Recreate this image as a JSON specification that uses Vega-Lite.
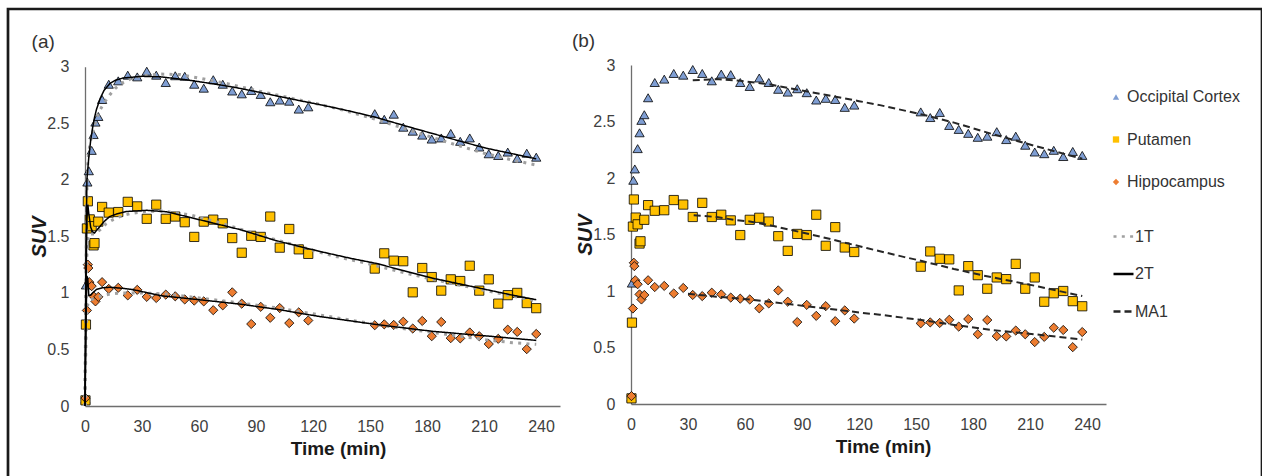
{
  "$schema": "https://vega.github.io/schema/vega-lite/v6.json",
  "autosize": "none",
  "width": 1254,
  "height": 490,
  "padding": {"left": 8, "top": 9, "right": 0, "bottom": 0},
  "background": "white",
  "config": {
    "font": "Liberation Sans",
    "view": {"stroke": "#1a1a1a", "strokeWidth": 2.7},
    "axis": {"grid": false, "ticks": false, "tickSize": 0, "domainColor": "#6e6e6e", "domainWidth": 1.3, "labelFont": "Liberation Sans", "labelFontSize": 16, "labelColor": "#404040", "titleFont": "Liberation Sans", "titleColor": "#1a1a1a", "labelFlush": false, "labelOverlap": false},
    "legend": {"labelFont": "Liberation Sans", "labelFontSize": 16, "labelColor": "#333333", "padding": 0}
  },
  "datasets": {
    "obs": [
      {"region": "Occipital Cortex", "t": 0.25, "suv": 0.06},
      {"region": "Occipital Cortex", "t": 0.5, "suv": 1.07},
      {"region": "Occipital Cortex", "t": 1.25, "suv": 1.98},
      {"region": "Occipital Cortex", "t": 2.0, "suv": 2.08},
      {"region": "Occipital Cortex", "t": 3.5, "suv": 2.26},
      {"region": "Occipital Cortex", "t": 4.5, "suv": 2.40},
      {"region": "Occipital Cortex", "t": 5.5, "suv": 2.51},
      {"region": "Occipital Cortex", "t": 7, "suv": 2.56},
      {"region": "Occipital Cortex", "t": 9, "suv": 2.71},
      {"region": "Occipital Cortex", "t": 12.5, "suv": 2.845},
      {"region": "Occipital Cortex", "t": 17.5, "suv": 2.875},
      {"region": "Occipital Cortex", "t": 22.5, "suv": 2.925},
      {"region": "Occipital Cortex", "t": 27.5, "suv": 2.91},
      {"region": "Occipital Cortex", "t": 32.5, "suv": 2.96},
      {"region": "Occipital Cortex", "t": 37.5, "suv": 2.925},
      {"region": "Occipital Cortex", "t": 42.5, "suv": 2.86},
      {"region": "Occipital Cortex", "t": 47.5, "suv": 2.92},
      {"region": "Occipital Cortex", "t": 52.5, "suv": 2.915},
      {"region": "Occipital Cortex", "t": 57.5, "suv": 2.845},
      {"region": "Occipital Cortex", "t": 62.5, "suv": 2.81},
      {"region": "Occipital Cortex", "t": 67.5, "suv": 2.885},
      {"region": "Occipital Cortex", "t": 72.5, "suv": 2.845},
      {"region": "Occipital Cortex", "t": 77.5, "suv": 2.785},
      {"region": "Occipital Cortex", "t": 82.5, "suv": 2.76},
      {"region": "Occipital Cortex", "t": 87.5, "suv": 2.79},
      {"region": "Occipital Cortex", "t": 92.5, "suv": 2.755},
      {"region": "Occipital Cortex", "t": 97.5, "suv": 2.69},
      {"region": "Occipital Cortex", "t": 102.5, "suv": 2.705},
      {"region": "Occipital Cortex", "t": 107.5, "suv": 2.695},
      {"region": "Occipital Cortex", "t": 112.5, "suv": 2.625},
      {"region": "Occipital Cortex", "t": 117.5, "suv": 2.645},
      {"region": "Occipital Cortex", "t": 152.5, "suv": 2.585},
      {"region": "Occipital Cortex", "t": 157.5, "suv": 2.535},
      {"region": "Occipital Cortex", "t": 162.5, "suv": 2.58},
      {"region": "Occipital Cortex", "t": 167.5, "suv": 2.465},
      {"region": "Occipital Cortex", "t": 172.5, "suv": 2.43},
      {"region": "Occipital Cortex", "t": 177.5, "suv": 2.395},
      {"region": "Occipital Cortex", "t": 182.5, "suv": 2.36},
      {"region": "Occipital Cortex", "t": 187.5, "suv": 2.37},
      {"region": "Occipital Cortex", "t": 192.5, "suv": 2.41},
      {"region": "Occipital Cortex", "t": 197.5, "suv": 2.34},
      {"region": "Occipital Cortex", "t": 202.5, "suv": 2.37},
      {"region": "Occipital Cortex", "t": 207.5, "suv": 2.29},
      {"region": "Occipital Cortex", "t": 212.5, "suv": 2.23},
      {"region": "Occipital Cortex", "t": 217.5, "suv": 2.215},
      {"region": "Occipital Cortex", "t": 222.5, "suv": 2.245},
      {"region": "Occipital Cortex", "t": 227.5, "suv": 2.19},
      {"region": "Occipital Cortex", "t": 232.5, "suv": 2.235},
      {"region": "Occipital Cortex", "t": 237.5, "suv": 2.2},
      {"region": "Putamen", "t": 0.25, "suv": 0.05},
      {"region": "Putamen", "t": 0.5, "suv": 0.72},
      {"region": "Putamen", "t": 1.0, "suv": 1.57},
      {"region": "Putamen", "t": 1.5, "suv": 1.81},
      {"region": "Putamen", "t": 2.5, "suv": 1.65},
      {"region": "Putamen", "t": 3.5, "suv": 1.59},
      {"region": "Putamen", "t": 4.5, "suv": 1.42},
      {"region": "Putamen", "t": 5.0, "suv": 1.44},
      {"region": "Putamen", "t": 7, "suv": 1.63},
      {"region": "Putamen", "t": 9, "suv": 1.76},
      {"region": "Putamen", "t": 12.5, "suv": 1.71},
      {"region": "Putamen", "t": 17.5, "suv": 1.715},
      {"region": "Putamen", "t": 22.5, "suv": 1.805},
      {"region": "Putamen", "t": 27.5, "suv": 1.765},
      {"region": "Putamen", "t": 32.5, "suv": 1.655},
      {"region": "Putamen", "t": 37.5, "suv": 1.78},
      {"region": "Putamen", "t": 42.5, "suv": 1.655},
      {"region": "Putamen", "t": 47.5, "suv": 1.675},
      {"region": "Putamen", "t": 52.5, "suv": 1.625},
      {"region": "Putamen", "t": 57.5, "suv": 1.495},
      {"region": "Putamen", "t": 62.5, "suv": 1.63},
      {"region": "Putamen", "t": 67.5, "suv": 1.648},
      {"region": "Putamen", "t": 72.5, "suv": 1.615},
      {"region": "Putamen", "t": 77.5, "suv": 1.485},
      {"region": "Putamen", "t": 82.5, "suv": 1.355},
      {"region": "Putamen", "t": 87.5, "suv": 1.505},
      {"region": "Putamen", "t": 92.5, "suv": 1.495},
      {"region": "Putamen", "t": 97.5, "suv": 1.675},
      {"region": "Putamen", "t": 102.5, "suv": 1.4},
      {"region": "Putamen", "t": 107.5, "suv": 1.565},
      {"region": "Putamen", "t": 112.5, "suv": 1.385},
      {"region": "Putamen", "t": 117.5, "suv": 1.345},
      {"region": "Putamen", "t": 152.5, "suv": 1.215},
      {"region": "Putamen", "t": 157.5, "suv": 1.35},
      {"region": "Putamen", "t": 162.5, "suv": 1.285},
      {"region": "Putamen", "t": 167.5, "suv": 1.28},
      {"region": "Putamen", "t": 172.5, "suv": 1.005},
      {"region": "Putamen", "t": 177.5, "suv": 1.22},
      {"region": "Putamen", "t": 182.5, "suv": 1.14},
      {"region": "Putamen", "t": 187.5, "suv": 1.02},
      {"region": "Putamen", "t": 192.5, "suv": 1.12},
      {"region": "Putamen", "t": 197.5, "suv": 1.105},
      {"region": "Putamen", "t": 202.5, "suv": 1.24},
      {"region": "Putamen", "t": 207.5, "suv": 1.02},
      {"region": "Putamen", "t": 212.5, "suv": 1.12},
      {"region": "Putamen", "t": 217.5, "suv": 0.905},
      {"region": "Putamen", "t": 222.5, "suv": 0.98},
      {"region": "Putamen", "t": 227.5, "suv": 1.0},
      {"region": "Putamen", "t": 232.5, "suv": 0.91},
      {"region": "Putamen", "t": 237.5, "suv": 0.865},
      {"region": "Hippocampus", "t": 0.25, "suv": 0.07},
      {"region": "Hippocampus", "t": 1.0, "suv": 0.845},
      {"region": "Hippocampus", "t": 1.5, "suv": 1.25},
      {"region": "Hippocampus", "t": 1.75, "suv": 1.22},
      {"region": "Hippocampus", "t": 2.25, "suv": 1.095},
      {"region": "Hippocampus", "t": 3.5, "suv": 1.06},
      {"region": "Hippocampus", "t": 4.5, "suv": 0.97},
      {"region": "Hippocampus", "t": 5.5, "suv": 0.925},
      {"region": "Hippocampus", "t": 7, "suv": 0.965},
      {"region": "Hippocampus", "t": 9, "suv": 1.095},
      {"region": "Hippocampus", "t": 12.5, "suv": 1.035},
      {"region": "Hippocampus", "t": 17.5, "suv": 1.045},
      {"region": "Hippocampus", "t": 22.5, "suv": 0.978},
      {"region": "Hippocampus", "t": 27.5, "suv": 1.027},
      {"region": "Hippocampus", "t": 32.5, "suv": 0.965},
      {"region": "Hippocampus", "t": 37.5, "suv": 0.955},
      {"region": "Hippocampus", "t": 42.5, "suv": 0.985},
      {"region": "Hippocampus", "t": 47.5, "suv": 0.97},
      {"region": "Hippocampus", "t": 52.5, "suv": 0.942},
      {"region": "Hippocampus", "t": 57.5, "suv": 0.932},
      {"region": "Hippocampus", "t": 62.5, "suv": 0.925},
      {"region": "Hippocampus", "t": 67.5, "suv": 0.847},
      {"region": "Hippocampus", "t": 72.5, "suv": 0.89},
      {"region": "Hippocampus", "t": 77.5, "suv": 1.005},
      {"region": "Hippocampus", "t": 82.5, "suv": 0.905},
      {"region": "Hippocampus", "t": 87.5, "suv": 0.725},
      {"region": "Hippocampus", "t": 92.5, "suv": 0.877},
      {"region": "Hippocampus", "t": 97.5, "suv": 0.78},
      {"region": "Hippocampus", "t": 102.5, "suv": 0.866},
      {"region": "Hippocampus", "t": 107.5, "suv": 0.733},
      {"region": "Hippocampus", "t": 112.5, "suv": 0.828},
      {"region": "Hippocampus", "t": 117.5, "suv": 0.756},
      {"region": "Hippocampus", "t": 152.5, "suv": 0.714},
      {"region": "Hippocampus", "t": 157.5, "suv": 0.722},
      {"region": "Hippocampus", "t": 162.5, "suv": 0.717},
      {"region": "Hippocampus", "t": 167.5, "suv": 0.745},
      {"region": "Hippocampus", "t": 172.5, "suv": 0.685},
      {"region": "Hippocampus", "t": 177.5, "suv": 0.752},
      {"region": "Hippocampus", "t": 182.5, "suv": 0.617},
      {"region": "Hippocampus", "t": 187.5, "suv": 0.743},
      {"region": "Hippocampus", "t": 192.5, "suv": 0.6},
      {"region": "Hippocampus", "t": 197.5, "suv": 0.598},
      {"region": "Hippocampus", "t": 202.5, "suv": 0.65},
      {"region": "Hippocampus", "t": 207.5, "suv": 0.617},
      {"region": "Hippocampus", "t": 212.5, "suv": 0.548},
      {"region": "Hippocampus", "t": 217.5, "suv": 0.594},
      {"region": "Hippocampus", "t": 222.5, "suv": 0.675},
      {"region": "Hippocampus", "t": 227.5, "suv": 0.655},
      {"region": "Hippocampus", "t": 232.5, "suv": 0.503},
      {"region": "Hippocampus", "t": 237.5, "suv": 0.637}
    ],
    "fit": [
      {"model": "1T", "region": "Occipital Cortex", "t": 0, "suv": 0},
      {"model": "1T", "region": "Occipital Cortex", "t": 0.5, "suv": 1.2},
      {"model": "1T", "region": "Occipital Cortex", "t": 1, "suv": 1.9},
      {"model": "1T", "region": "Occipital Cortex", "t": 1.5, "suv": 2.15},
      {"model": "1T", "region": "Occipital Cortex", "t": 2, "suv": 2.25},
      {"model": "1T", "region": "Occipital Cortex", "t": 3, "suv": 2.35},
      {"model": "1T", "region": "Occipital Cortex", "t": 4, "suv": 2.42},
      {"model": "1T", "region": "Occipital Cortex", "t": 5, "suv": 2.48},
      {"model": "1T", "region": "Occipital Cortex", "t": 6, "suv": 2.54},
      {"model": "1T", "region": "Occipital Cortex", "t": 8, "suv": 2.62},
      {"model": "1T", "region": "Occipital Cortex", "t": 10, "suv": 2.68},
      {"model": "1T", "region": "Occipital Cortex", "t": 13, "suv": 2.75},
      {"model": "1T", "region": "Occipital Cortex", "t": 16, "suv": 2.81},
      {"model": "1T", "region": "Occipital Cortex", "t": 20, "suv": 2.86},
      {"model": "1T", "region": "Occipital Cortex", "t": 25, "suv": 2.9},
      {"model": "1T", "region": "Occipital Cortex", "t": 30, "suv": 2.92},
      {"model": "1T", "region": "Occipital Cortex", "t": 40, "suv": 2.935},
      {"model": "1T", "region": "Occipital Cortex", "t": 50, "suv": 2.93},
      {"model": "1T", "region": "Occipital Cortex", "t": 60, "suv": 2.9},
      {"model": "1T", "region": "Occipital Cortex", "t": 75, "suv": 2.85},
      {"model": "1T", "region": "Occipital Cortex", "t": 90, "suv": 2.79},
      {"model": "1T", "region": "Occipital Cortex", "t": 105, "suv": 2.735},
      {"model": "1T", "region": "Occipital Cortex", "t": 120, "suv": 2.68},
      {"model": "1T", "region": "Occipital Cortex", "t": 135, "suv": 2.62},
      {"model": "1T", "region": "Occipital Cortex", "t": 150, "suv": 2.55},
      {"model": "1T", "region": "Occipital Cortex", "t": 165, "suv": 2.47},
      {"model": "1T", "region": "Occipital Cortex", "t": 180, "suv": 2.39},
      {"model": "1T", "region": "Occipital Cortex", "t": 195, "suv": 2.31},
      {"model": "1T", "region": "Occipital Cortex", "t": 210, "suv": 2.235},
      {"model": "1T", "region": "Occipital Cortex", "t": 225, "suv": 2.175},
      {"model": "1T", "region": "Occipital Cortex", "t": 237.5, "suv": 2.13},
      {"model": "2T", "region": "Occipital Cortex", "t": 0, "suv": 0},
      {"model": "2T", "region": "Occipital Cortex", "t": 0.5, "suv": 1.3},
      {"model": "2T", "region": "Occipital Cortex", "t": 1, "suv": 2.0},
      {"model": "2T", "region": "Occipital Cortex", "t": 1.5, "suv": 2.1},
      {"model": "2T", "region": "Occipital Cortex", "t": 2, "suv": 2.2},
      {"model": "2T", "region": "Occipital Cortex", "t": 3, "suv": 2.35},
      {"model": "2T", "region": "Occipital Cortex", "t": 4, "suv": 2.46},
      {"model": "2T", "region": "Occipital Cortex", "t": 5, "suv": 2.55},
      {"model": "2T", "region": "Occipital Cortex", "t": 6, "suv": 2.62},
      {"model": "2T", "region": "Occipital Cortex", "t": 8, "suv": 2.72},
      {"model": "2T", "region": "Occipital Cortex", "t": 10, "suv": 2.79},
      {"model": "2T", "region": "Occipital Cortex", "t": 13, "suv": 2.85},
      {"model": "2T", "region": "Occipital Cortex", "t": 16, "suv": 2.88},
      {"model": "2T", "region": "Occipital Cortex", "t": 20, "suv": 2.9},
      {"model": "2T", "region": "Occipital Cortex", "t": 30, "suv": 2.915},
      {"model": "2T", "region": "Occipital Cortex", "t": 40, "suv": 2.91},
      {"model": "2T", "region": "Occipital Cortex", "t": 53, "suv": 2.885},
      {"model": "2T", "region": "Occipital Cortex", "t": 65, "suv": 2.855},
      {"model": "2T", "region": "Occipital Cortex", "t": 78, "suv": 2.82},
      {"model": "2T", "region": "Occipital Cortex", "t": 90, "suv": 2.78},
      {"model": "2T", "region": "Occipital Cortex", "t": 100, "suv": 2.745},
      {"model": "2T", "region": "Occipital Cortex", "t": 113, "suv": 2.7},
      {"model": "2T", "region": "Occipital Cortex", "t": 125, "suv": 2.66},
      {"model": "2T", "region": "Occipital Cortex", "t": 140, "suv": 2.605},
      {"model": "2T", "region": "Occipital Cortex", "t": 152.5, "suv": 2.555},
      {"model": "2T", "region": "Occipital Cortex", "t": 170, "suv": 2.47},
      {"model": "2T", "region": "Occipital Cortex", "t": 187, "suv": 2.39},
      {"model": "2T", "region": "Occipital Cortex", "t": 200, "suv": 2.33},
      {"model": "2T", "region": "Occipital Cortex", "t": 211, "suv": 2.28},
      {"model": "2T", "region": "Occipital Cortex", "t": 225, "suv": 2.23},
      {"model": "2T", "region": "Occipital Cortex", "t": 237.5, "suv": 2.185},
      {"model": "1T", "region": "Putamen", "t": 0, "suv": 0},
      {"model": "1T", "region": "Putamen", "t": 0.5, "suv": 0.9},
      {"model": "1T", "region": "Putamen", "t": 1, "suv": 1.35},
      {"model": "1T", "region": "Putamen", "t": 1.5, "suv": 1.48},
      {"model": "1T", "region": "Putamen", "t": 2, "suv": 1.52},
      {"model": "1T", "region": "Putamen", "t": 3, "suv": 1.52},
      {"model": "1T", "region": "Putamen", "t": 5, "suv": 1.52},
      {"model": "1T", "region": "Putamen", "t": 8, "suv": 1.56},
      {"model": "1T", "region": "Putamen", "t": 11, "suv": 1.61},
      {"model": "1T", "region": "Putamen", "t": 15, "suv": 1.65},
      {"model": "1T", "region": "Putamen", "t": 20, "suv": 1.685},
      {"model": "1T", "region": "Putamen", "t": 25, "suv": 1.705},
      {"model": "1T", "region": "Putamen", "t": 32, "suv": 1.72},
      {"model": "1T", "region": "Putamen", "t": 40, "suv": 1.725},
      {"model": "1T", "region": "Putamen", "t": 55, "suv": 1.69},
      {"model": "1T", "region": "Putamen", "t": 70, "suv": 1.625},
      {"model": "1T", "region": "Putamen", "t": 90, "suv": 1.52},
      {"model": "1T", "region": "Putamen", "t": 113, "suv": 1.41},
      {"model": "1T", "region": "Putamen", "t": 130, "suv": 1.33},
      {"model": "1T", "region": "Putamen", "t": 150, "suv": 1.255},
      {"model": "1T", "region": "Putamen", "t": 165, "suv": 1.19},
      {"model": "1T", "region": "Putamen", "t": 183, "suv": 1.12},
      {"model": "1T", "region": "Putamen", "t": 211, "suv": 1.02},
      {"model": "1T", "region": "Putamen", "t": 237.5, "suv": 0.93},
      {"model": "2T", "region": "Putamen", "t": 0, "suv": 0},
      {"model": "2T", "region": "Putamen", "t": 0.5, "suv": 1.0},
      {"model": "2T", "region": "Putamen", "t": 1, "suv": 1.65},
      {"model": "2T", "region": "Putamen", "t": 1.5, "suv": 1.78},
      {"model": "2T", "region": "Putamen", "t": 2, "suv": 1.7},
      {"model": "2T", "region": "Putamen", "t": 3, "suv": 1.58},
      {"model": "2T", "region": "Putamen", "t": 4, "suv": 1.54},
      {"model": "2T", "region": "Putamen", "t": 5, "suv": 1.53},
      {"model": "2T", "region": "Putamen", "t": 7, "suv": 1.57},
      {"model": "2T", "region": "Putamen", "t": 10, "suv": 1.63},
      {"model": "2T", "region": "Putamen", "t": 13, "suv": 1.675},
      {"model": "2T", "region": "Putamen", "t": 17, "suv": 1.7},
      {"model": "2T", "region": "Putamen", "t": 22, "suv": 1.72},
      {"model": "2T", "region": "Putamen", "t": 32.5, "suv": 1.73},
      {"model": "2T", "region": "Putamen", "t": 43, "suv": 1.717},
      {"model": "2T", "region": "Putamen", "t": 53.5, "suv": 1.675},
      {"model": "2T", "region": "Putamen", "t": 67.5, "suv": 1.617},
      {"model": "2T", "region": "Putamen", "t": 81.6, "suv": 1.56},
      {"model": "2T", "region": "Putamen", "t": 100, "suv": 1.465},
      {"model": "2T", "region": "Putamen", "t": 113, "suv": 1.41},
      {"model": "2T", "region": "Putamen", "t": 124, "suv": 1.365},
      {"model": "2T", "region": "Putamen", "t": 140, "suv": 1.305},
      {"model": "2T", "region": "Putamen", "t": 153.5, "suv": 1.26},
      {"model": "2T", "region": "Putamen", "t": 168, "suv": 1.195},
      {"model": "2T", "region": "Putamen", "t": 183, "suv": 1.13},
      {"model": "2T", "region": "Putamen", "t": 197, "suv": 1.08},
      {"model": "2T", "region": "Putamen", "t": 211, "suv": 1.03},
      {"model": "2T", "region": "Putamen", "t": 225, "suv": 0.98},
      {"model": "2T", "region": "Putamen", "t": 237.5, "suv": 0.94},
      {"model": "1T", "region": "Hippocampus", "t": 0, "suv": 0},
      {"model": "1T", "region": "Hippocampus", "t": 0.5, "suv": 0.6},
      {"model": "1T", "region": "Hippocampus", "t": 1, "suv": 0.82},
      {"model": "1T", "region": "Hippocampus", "t": 1.5, "suv": 0.9},
      {"model": "1T", "region": "Hippocampus", "t": 2, "suv": 0.93},
      {"model": "1T", "region": "Hippocampus", "t": 3, "suv": 0.94},
      {"model": "1T", "region": "Hippocampus", "t": 5, "suv": 0.95},
      {"model": "1T", "region": "Hippocampus", "t": 8, "suv": 0.97},
      {"model": "1T", "region": "Hippocampus", "t": 13, "suv": 0.99},
      {"model": "1T", "region": "Hippocampus", "t": 20, "suv": 1.0},
      {"model": "1T", "region": "Hippocampus", "t": 30, "suv": 1.0},
      {"model": "1T", "region": "Hippocampus", "t": 43, "suv": 0.99},
      {"model": "1T", "region": "Hippocampus", "t": 60, "suv": 0.955},
      {"model": "1T", "region": "Hippocampus", "t": 80, "suv": 0.915},
      {"model": "1T", "region": "Hippocampus", "t": 100, "suv": 0.87},
      {"model": "1T", "region": "Hippocampus", "t": 120, "suv": 0.815},
      {"model": "1T", "region": "Hippocampus", "t": 150, "suv": 0.73},
      {"model": "1T", "region": "Hippocampus", "t": 165, "suv": 0.69},
      {"model": "1T", "region": "Hippocampus", "t": 183, "suv": 0.65},
      {"model": "1T", "region": "Hippocampus", "t": 211, "suv": 0.585},
      {"model": "1T", "region": "Hippocampus", "t": 225, "suv": 0.56},
      {"model": "1T", "region": "Hippocampus", "t": 237.5, "suv": 0.545},
      {"model": "2T", "region": "Hippocampus", "t": 0, "suv": 0},
      {"model": "2T", "region": "Hippocampus", "t": 0.5, "suv": 0.7},
      {"model": "2T", "region": "Hippocampus", "t": 1, "suv": 1.15},
      {"model": "2T", "region": "Hippocampus", "t": 1.5, "suv": 1.12},
      {"model": "2T", "region": "Hippocampus", "t": 2, "suv": 0.98},
      {"model": "2T", "region": "Hippocampus", "t": 3, "suv": 0.98},
      {"model": "2T", "region": "Hippocampus", "t": 4, "suv": 1.0},
      {"model": "2T", "region": "Hippocampus", "t": 6, "suv": 1.03},
      {"model": "2T", "region": "Hippocampus", "t": 9, "suv": 1.045},
      {"model": "2T", "region": "Hippocampus", "t": 13, "suv": 1.05},
      {"model": "2T", "region": "Hippocampus", "t": 20, "suv": 1.04},
      {"model": "2T", "region": "Hippocampus", "t": 25, "suv": 1.03},
      {"model": "2T", "region": "Hippocampus", "t": 40, "suv": 0.975},
      {"model": "2T", "region": "Hippocampus", "t": 60, "suv": 0.94},
      {"model": "2T", "region": "Hippocampus", "t": 82, "suv": 0.9},
      {"model": "2T", "region": "Hippocampus", "t": 103, "suv": 0.85},
      {"model": "2T", "region": "Hippocampus", "t": 113, "suv": 0.82},
      {"model": "2T", "region": "Hippocampus", "t": 124, "suv": 0.79},
      {"model": "2T", "region": "Hippocampus", "t": 153.5, "suv": 0.72},
      {"model": "2T", "region": "Hippocampus", "t": 183, "suv": 0.66},
      {"model": "2T", "region": "Hippocampus", "t": 211, "suv": 0.62},
      {"model": "2T", "region": "Hippocampus", "t": 237.5, "suv": 0.58},
      {"model": "MA1", "region": "Occipital Cortex", "t": 32.5, "suv": 2.865},
      {"model": "MA1", "region": "Occipital Cortex", "t": 45, "suv": 2.875},
      {"model": "MA1", "region": "Occipital Cortex", "t": 57.5, "suv": 2.86},
      {"model": "MA1", "region": "Occipital Cortex", "t": 72.5, "suv": 2.83},
      {"model": "MA1", "region": "Occipital Cortex", "t": 85, "suv": 2.79},
      {"model": "MA1", "region": "Occipital Cortex", "t": 103, "suv": 2.735},
      {"model": "MA1", "region": "Occipital Cortex", "t": 120, "suv": 2.68},
      {"model": "MA1", "region": "Occipital Cortex", "t": 131, "suv": 2.645},
      {"model": "MA1", "region": "Occipital Cortex", "t": 152.5, "suv": 2.565},
      {"model": "MA1", "region": "Occipital Cortex", "t": 170, "suv": 2.49},
      {"model": "MA1", "region": "Occipital Cortex", "t": 190, "suv": 2.39},
      {"model": "MA1", "region": "Occipital Cortex", "t": 213.5, "suv": 2.28},
      {"model": "MA1", "region": "Occipital Cortex", "t": 237.5, "suv": 2.17},
      {"model": "MA1", "region": "Putamen", "t": 33, "suv": 1.67},
      {"model": "MA1", "region": "Putamen", "t": 45, "suv": 1.655},
      {"model": "MA1", "region": "Putamen", "t": 54, "suv": 1.63},
      {"model": "MA1", "region": "Putamen", "t": 62.5, "suv": 1.615},
      {"model": "MA1", "region": "Putamen", "t": 75, "suv": 1.575},
      {"model": "MA1", "region": "Putamen", "t": 100, "suv": 1.48},
      {"model": "MA1", "region": "Putamen", "t": 124, "suv": 1.38},
      {"model": "MA1", "region": "Putamen", "t": 144, "suv": 1.3},
      {"model": "MA1", "region": "Putamen", "t": 152, "suv": 1.27},
      {"model": "MA1", "region": "Putamen", "t": 170, "suv": 1.195},
      {"model": "MA1", "region": "Putamen", "t": 184.6, "suv": 1.14},
      {"model": "MA1", "region": "Putamen", "t": 214.4, "suv": 1.04},
      {"model": "MA1", "region": "Putamen", "t": 237.5, "suv": 0.955},
      {"model": "MA1", "region": "Hippocampus", "t": 30, "suv": 0.975},
      {"model": "MA1", "region": "Hippocampus", "t": 45, "suv": 0.95},
      {"model": "MA1", "region": "Hippocampus", "t": 62.5, "suv": 0.925},
      {"model": "MA1", "region": "Hippocampus", "t": 85, "suv": 0.88},
      {"model": "MA1", "region": "Hippocampus", "t": 103, "suv": 0.845},
      {"model": "MA1", "region": "Hippocampus", "t": 120, "suv": 0.81},
      {"model": "MA1", "region": "Hippocampus", "t": 131, "suv": 0.79},
      {"model": "MA1", "region": "Hippocampus", "t": 152, "suv": 0.745},
      {"model": "MA1", "region": "Hippocampus", "t": 170, "suv": 0.7},
      {"model": "MA1", "region": "Hippocampus", "t": 190, "suv": 0.655},
      {"model": "MA1", "region": "Hippocampus", "t": 213.5, "suv": 0.615},
      {"model": "MA1", "region": "Hippocampus", "t": 237.5, "suv": 0.57}
    ],
    "labels": [{"panel": "a", "label": "(a)"}, {"panel": "b", "label": "(b)"}]
  },
  "layer": [
    {
      "layer": [
        {
          "data": {"name": "obs"},
          "mark": {"type": "point", "filled": true, "stroke": "#000000", "strokeWidth": 0.8, "size": 85, "opacity": 1},
          "encoding": {
            "x": {"field": "t", "type": "quantitative", "scale": {"domain": [0, 250], "range": [77, 552], "nice": false, "zero": false},
                  "axis": {"orient": "bottom", "offset": -93, "values": [0, 30, 60, 90, 120, 150, 180, 210, 240], "format": "d", "labelPadding": 12, "title": "Time (min)", "titleFontSize": 19, "titleFontWeight": "bold", "titleX": 330, "titleY": 48, "titleBaseline": "alphabetic", "titleAlign": "center"}},
            "y": {"field": "suv", "type": "quantitative", "scale": {"domain": [0, 3], "range": [397, 57.7], "nice": false, "zero": false},
                  "axis": {"orient": "left", "offset": -77, "values": [0, 0.5, 1, 1.5, 2, 2.5, 3], "format": "~g", "labelPadding": 16, "title": "SUV", "titleFontSize": 20, "titleFontWeight": "bold", "titleFontStyle": "italic", "titleX": -40, "titleAngle": 270, "titleBaseline": "alphabetic", "titleAlign": "center"}},
            "fill": {"field": "region", "type": "nominal", "scale": {"domain": ["Occipital Cortex", "Putamen", "Hippocampus"], "range": ["#7F9ED3", "#FFC000", "#ED7D31"]},
                     "legend": {"title": null, "orient": "none", "legendX": 1100, "legendY": 80, "symbolSize": 40, "symbolStrokeColor": "#000000", "symbolStrokeWidth": 0.8, "rowPadding": 26.5, "labelOffset": 3}},
            "shape": {"field": "region", "type": "nominal", "scale": {"domain": ["Occipital Cortex", "Putamen", "Hippocampus"], "range": ["triangle-up", "square", "diamond"]},
                     "legend": {"title": null, "orient": "none", "legendX": 1100, "legendY": 80, "symbolSize": 40, "symbolStrokeColor": "#000000", "symbolStrokeWidth": 0.8, "rowPadding": 26.5, "labelOffset": 3}}
          }
        },
        {
          "data": {"name": "fit"},
          "transform": [{"filter": "datum.model === '1T'"}],
          "mark": {"type": "line", "strokeWidth": 3},
          "encoding": {
            "x": {"field": "t", "type": "quantitative"},
            "y": {"field": "suv", "type": "quantitative"},
            "detail": {"field": "region"},
            "stroke": {"field": "model", "type": "nominal", "scale": {"domain": ["1T", "2T", "MA1"], "range": ["#A0A0A0", "#000000", "#262626"]},
                       "legend": {"title": null, "orient": "none", "legendX": 1104, "legendY": 216, "symbolType": "stroke", "symbolSize": 400, "symbolStrokeWidth": 2.5, "rowPadding": 17.5, "labelOffset": 0}},
            "strokeDash": {"field": "model", "type": "nominal", "scale": {"domain": ["1T", "2T", "MA1"], "range": [[3, 5.3], [1, 0], [7, 4]]},
                       "legend": {"title": null, "orient": "none", "legendX": 1104, "legendY": 216, "symbolType": "stroke", "symbolSize": 400, "symbolStrokeWidth": 2.5, "rowPadding": 17.5, "labelOffset": 0}}
          }
        },
        {
          "data": {"name": "fit"},
          "transform": [{"filter": "datum.model === '2T'"}],
          "mark": {"type": "line", "strokeWidth": 1.5},
          "encoding": {
            "x": {"field": "t", "type": "quantitative"},
            "y": {"field": "suv", "type": "quantitative"},
            "detail": {"field": "region"},
            "stroke": {"field": "model", "type": "nominal", "scale": {"domain": ["1T", "2T", "MA1"], "range": ["#A0A0A0", "#000000", "#262626"]},
                       "legend": {"title": null, "orient": "none", "legendX": 1104, "legendY": 216, "symbolType": "stroke", "symbolSize": 400, "symbolStrokeWidth": 2.5, "rowPadding": 17.5, "labelOffset": 0}},
            "strokeDash": {"field": "model", "type": "nominal", "scale": {"domain": ["1T", "2T", "MA1"], "range": [[3, 5.3], [1, 0], [7, 4]]},
                       "legend": {"title": null, "orient": "none", "legendX": 1104, "legendY": 216, "symbolType": "stroke", "symbolSize": 400, "symbolStrokeWidth": 2.5, "rowPadding": 17.5, "labelOffset": 0}}
          }
        },
        {
          "data": {"name": "labels"},
          "transform": [{"filter": "datum.panel === 'a'"}],
          "mark": {"type": "text", "fontSize": 19, "color": "#333333", "align": "center", "baseline": "middle"},
          "encoding": {
            "x": {"datum": -22},
            "y": {"datum": 3.22},
            "text": {"field": "label"}
          }
        }
      ]
    },
    {
      "layer": [
        {
          "data": {"name": "obs"},
          "mark": {"type": "point", "filled": true, "stroke": "#000000", "strokeWidth": 0.8, "size": 85, "opacity": 1},
          "encoding": {
            "x": {"field": "t", "type": "quantitative", "scale": {"domain": [0, 250], "range": [623, 1098], "nice": false, "zero": false},
                  "axis": {"orient": "bottom", "offset": -95, "values": [0, 30, 60, 90, 120, 150, 180, 210, 240], "format": "d", "labelPadding": 12, "title": "Time (min)", "titleFontSize": 19, "titleFontWeight": "bold", "titleX": 875, "titleY": 48, "titleBaseline": "alphabetic", "titleAlign": "center"}},
            "y": {"field": "suv", "type": "quantitative", "scale": {"domain": [0, 3], "range": [395, 56], "nice": false, "zero": false},
                  "axis": {"orient": "left", "offset": -623, "values": [0, 0.5, 1, 1.5, 2, 2.5, 3], "format": "~g", "labelPadding": 16, "title": "SUV", "titleFontSize": 20, "titleFontWeight": "bold", "titleFontStyle": "italic", "titleX": -40, "titleAngle": 270, "titleBaseline": "alphabetic", "titleAlign": "center"}},
            "fill": {"field": "region", "type": "nominal", "scale": {"domain": ["Occipital Cortex", "Putamen", "Hippocampus"], "range": ["#7F9ED3", "#FFC000", "#ED7D31"]},
                     "legend": {"title": null, "orient": "none", "legendX": 1100, "legendY": 80, "symbolSize": 40, "symbolStrokeColor": "#000000", "symbolStrokeWidth": 0.8, "rowPadding": 26.5, "labelOffset": 3}},
            "shape": {"field": "region", "type": "nominal", "scale": {"domain": ["Occipital Cortex", "Putamen", "Hippocampus"], "range": ["triangle-up", "square", "diamond"]},
                     "legend": {"title": null, "orient": "none", "legendX": 1100, "legendY": 80, "symbolSize": 40, "symbolStrokeColor": "#000000", "symbolStrokeWidth": 0.8, "rowPadding": 26.5, "labelOffset": 3}}
          }
        },
        {
          "data": {"name": "fit"},
          "transform": [{"filter": "datum.model === 'MA1'"}],
          "mark": {"type": "line", "strokeWidth": 2},
          "encoding": {
            "x": {"field": "t", "type": "quantitative"},
            "y": {"field": "suv", "type": "quantitative"},
            "detail": {"field": "region"},
            "stroke": {"field": "model", "type": "nominal", "scale": {"domain": ["1T", "2T", "MA1"], "range": ["#A0A0A0", "#000000", "#262626"]},
                       "legend": {"title": null, "orient": "none", "legendX": 1104, "legendY": 216, "symbolType": "stroke", "symbolSize": 400, "symbolStrokeWidth": 2.5, "rowPadding": 17.5, "labelOffset": 0}},
            "strokeDash": {"field": "model", "type": "nominal", "scale": {"domain": ["1T", "2T", "MA1"], "range": [[3, 5.3], [1, 0], [7, 4]]},
                       "legend": {"title": null, "orient": "none", "legendX": 1104, "legendY": 216, "symbolType": "stroke", "symbolSize": 400, "symbolStrokeWidth": 2.5, "rowPadding": 17.5, "labelOffset": 0}}
          }
        },
        {
          "data": {"name": "labels"},
          "transform": [{"filter": "datum.panel === 'b'"}],
          "mark": {"type": "text", "fontSize": 19, "color": "#333333", "align": "center", "baseline": "middle"},
          "encoding": {
            "x": {"datum": -25},
            "y": {"datum": 3.21},
            "text": {"field": "label"}
          }
        }
      ]
    }
  ],
  "resolve": {"scale": {"x": "independent", "y": "independent"}}
}
